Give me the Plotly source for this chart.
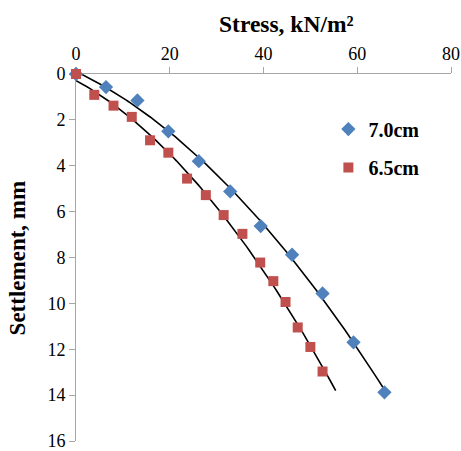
import numpy as np
import plotly.graph_objects as go

# Data: stress (kN/m^2) vs settlement (mm)
stress_70 = [0, 6.4, 13.1, 19.7, 26.2, 32.9, 39.4, 46.1, 52.6, 59.2, 65.8]
settle_70 = [0, 0.57, 1.15, 2.5, 3.8, 5.12, 6.63, 7.88, 9.57, 11.7, 13.88]

stress_65 = [0, 3.9, 8.0, 11.9, 15.8, 19.7, 23.7, 27.7, 31.5, 35.5, 39.3, 42.1, 44.7, 47.3, 50.0, 52.6]
settle_65 = [0, 0.91, 1.38, 1.87, 2.89, 3.43, 4.56, 5.28, 6.15, 6.97, 8.22, 9.03, 9.94, 11.05, 11.9, 12.97]

x_ticks = [0, 20, 40, 60, 80]
y_ticks = [0, 2, 4, 6, 8, 10, 12, 14, 16]

BLUE = "#4F81BD"
RED = "#C0504D"
FONT = "Liberation Serif"

def trend(xs, ys, lo_ext, hi_ext):
    c = np.polyfit(xs, ys, 2)
    xx = np.linspace(min(xs) - lo_ext, max(xs) + hi_ext, 100)
    return xx, np.polyval(c, xx)

fig = go.Figure()

tx, ty = trend(stress_70, settle_70, -0.8, 0.0)
fig.add_trace(go.Scatter(x=tx, y=ty, mode="lines", line=dict(color="black", width=1.6),
                         showlegend=False, hoverinfo="skip"))
tx, ty = trend(stress_65, settle_65, 1.6, 2.8)
fig.add_trace(go.Scatter(x=tx, y=ty, mode="lines", line=dict(color="black", width=1.6),
                         showlegend=False, hoverinfo="skip"))

fig.add_trace(go.Scatter(x=stress_70, y=settle_70, mode="markers", name="<b>7.0cm</b>",
                         marker=dict(symbol="diamond", size=11, color=BLUE),
                         cliponaxis=False, legend="legend"))
fig.add_trace(go.Scatter(x=stress_65, y=settle_65, mode="markers", name="<b>6.5cm</b>",
                         marker=dict(symbol="square", size=10, color=RED),
                         cliponaxis=False, legend="legend2"))

axis_common = dict(showgrid=False, zeroline=False, showline=True, linecolor="#a6a6a6",
                   linewidth=1, ticks="outside", tickcolor="#a6a6a6", ticklen=6,
                   ticklabeloverflow="allow", automargin=False, layer="below traces",
                   tickfont=dict(family=FONT, size=18, color="black"))

fig.update_xaxes(side="top", range=[0, 80], tickvals=x_ticks, **axis_common)
fig.update_yaxes(range=[16, 0], tickvals=y_ticks, **axis_common)

fig.add_annotation(text="<b>Stress, kN/m²</b>", xref="paper", yref="paper",
                   x=0.56, y=1.136, xanchor="center", yanchor="middle", showarrow=False,
                   font=dict(family=FONT, size=23.5, color="black"))
fig.add_annotation(text="<b>Settlement, mm</b>", xref="paper", yref="paper",
                   x=-0.155, y=0.5, xanchor="center", yanchor="middle", showarrow=False,
                   textangle=-90, font=dict(family=FONT, size=23, color="black"))

leg_common = dict(bgcolor="rgba(0,0,0,0)", borderwidth=0, xanchor="left", yanchor="middle",
                  font=dict(family=FONT, size=20, color="black"), itemwidth=30)
fig.update_layout(
    width=461, height=451,
    margin=dict(l=76, r=10, t=74, b=10, autoexpand=False),
    paper_bgcolor="white", plot_bgcolor="white",
    legend=dict(x=0.673, y=0.85, **leg_common),
    legend2=dict(x=0.673, y=0.745, **leg_common),
)

fig.write_html("out.html")
